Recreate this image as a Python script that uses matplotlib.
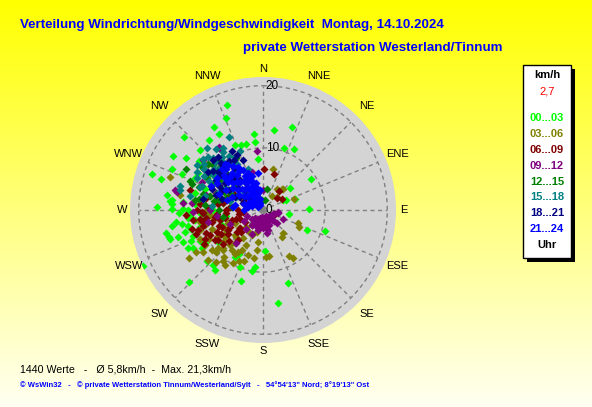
import numpy as np
import matplotlib
matplotlib.use("Agg")
import matplotlib.pyplot as plt
from matplotlib.patches import Rectangle

plt.rcParams['font.family'] = ['Liberation Sans', 'DejaVu Sans']

# Zeitgruppen (Uhr) und Farben
groups = ['00...03', '03...06', '06...09', '09...12', '12...15', '15...18', '18...21', '21...24']
colors = ['#00ff00', '#808000', '#800000', '#800080', '#008000', '#008080', '#000080', '#0000ff']

# Richtung (Grad) / Geschwindigkeit (km/h), aus dem Bild geschaetzt
dir_00 = [341, 338, 330, 322, 353, 8, 19, 353, 19, 27, 314, 341, 301, 304, 288, 287, 294, 354,
          57, 51, 67, 271.5, 279, 276, 245, 274, 252.6, 256.5, 254, 255.5, 242.9, 246.7, 238,
          227.5, 222, 218.8, 225.8, 234.7, 202, 197.4, 188, 190, 177, 210.7, 208.6, 160.7, 171,
          89, 114.6, 109, 64, 70.6, 99, 261.9, 293.7, 307.4, 275.5, 270.4, 260, 254, 271, 268,
          263.7, 241.4, 299.6, 283.8, 279.5, 329.5, 312.6, 336.7, 345.5,
          285, 300, 270, 260, 290, 310, 250, 265, 275, 295, 280, 305,
          262, 258, 250, 255, 248, 265, 270, 266, 260, 252, 276, 244, 240, 258, 268]
spd_00 = [17.9, 16.0, 14.2, 14.2, 12.3, 13.0, 14.1, 11.0, 10.5, 11.1, 14.0, 11.1, 16.9, 15.0,
          18.8, 17.2, 16.1, 8.2, 9.3, 5.6, 4.1, 17.0, 15.7, 14.8, 21.3, 14.6, 15.6, 16.1, 13.1,
          12.0, 13.5, 12.6, 11.5, 12.2, 12.0, 12.3, 16.7, 8.8, 9.9, 12.0, 9.3, 10.0, 6.6, 8.8,
          8.1, 12.4, 15.1, 7.4, 7.7, 10.6, 3.6, 5.4, 4.3, 14.1, 14.3, 13.0, 15.1, 14.7, 14.9,
          15.7, 12.9, 13.5, 12.1, 12.9, 12.0, 11.3, 10.3, 15.5, 17.3, 11.4, 11.0,
          9.0, 7.0, 8.0, 6.0, 10.0, 5.0, 7.0, 9.0, 11.0, 12.0, 6.5, 10.5,
          11.0, 12.3, 12.0, 10.5, 13.8, 11.8, 12.0, 10.0, 13.2, 14.3, 13.0, 11.3, 10.7, 9.0, 9.3]

dir_03 = [236.8, 228.4, 234.9, 223.3, 226, 198, 190.8, 176.3, 172, 151, 147.4, 189, 188.4, 206,
          210.6, 145, 139, 110.6, 115.5, 45.8, 33.6, 42.5, 196, 204, 14.2, 33.5, 44, 70.5, 289.7,
          280, 239, 230, 218, 240, 225, 215, 245, 232, 250, 220, 260, 270, 300, 285, 310, 215, 205,
          225, 232, 220, 212, 228, 238, 218, 208, 200, 235, 242, 250, 255, 215, 225, 245, 260,
          265, 228, 210, 245, 238, 222, 252, 232]
spd_03 = [14.2, 10.1, 7.5, 7.8, 8.9, 7.6, 7.8, 7.5, 7.5, 8.5, 9.1, 6.5, 5.2, 6.3,
          7.8, 5.4, 5.0, 6.1, 6.5, 3.1, 2.7, 4.5, 3.6, 4.4, 6.8, 4.0, 4.7, 5.3, 15.9,
          13.6, 10.9, 9.5, 8.2, 8.6, 6.2, 5.5, 7.0, 4.8, 6.0, 9.8, 8.0, 9.0, 10.5, 7.5, 11.5, 10.8, 9.0,
          9.2, 10.5, 7.0, 8.4, 6.0, 7.2, 10.5, 7.2, 8.8, 11.8, 9.8, 8.8, 9.6, 4.2, 3.8, 5.0, 10.5,
          8.5, 12.0, 9.8, 11.2, 12.8, 11.3, 10.6, 8.0]

dir_06 = [266.8, 257, 257, 243, 231.5, 253, 252.8, 49.5, 111, 262, 265, 248, 251, 259, 262, 238,
          245, 1.4, 17.6, 313.8, 235, 225, 270, 280, 290, 275, 300, 215, 240, 230, 285, 295, 266,
          220, 250, 40, 60,
          270, 265, 258, 250, 262, 272, 278, 268, 255, 245, 240, 275, 282, 260, 235, 230, 265,
          250, 243, 285, 290, 255, 248, 236, 262, 270, 240, 228]
spd_06 = [9.6, 8.5, 7.1, 6.0, 4.7, 5.3, 10.9, 2.9, 2.0, 7.8, 5.9, 7.2, 4.6, 9.8, 9.2, 9.1,
          9.4, 6.6, 6.0, 9.3, 3.5, 5.0, 4.0, 6.5, 8.0, 10.2, 5.6, 3.0, 7.8, 8.4, 12.2, 3.3, 12.5,
          6.3, 11.5, 4.0, 3.5,
          6.0, 7.5, 6.2, 7.5, 10.3, 8.7, 7.3, 9.8, 10.0, 8.2, 6.5, 5.4, 9.3, 4.0, 6.8, 5.4, 3.2,
          4.0, 10.4, 7.2, 6.0, 11.8, 9.9, 8.7, 11.4, 10.6, 11.0, 7.4]

dir_09 = [134, 114.6, 98.5, 171, 219, 222, 258, 268, 324.8, 353.8, 310, 343.6, 282, 275.4, 270,
          150, 170, 190, 200, 160, 180, 140, 210, 230, 125, 185, 165, 195, 215, 240, 250, 110,
          155, 205, 285, 295, 300, 262, 248, 305, 318, 275, 1, 102, 111,
          175, 200, 160, 190, 215, 145, 180, 170, 205, 225, 135, 195, 325, 283]
spd_09 = [3.1, 3.6, 2.5, 3.8, 6.9, 4.2, 9.0, 11.3, 12.0, 9.5, 12.6, 6.4, 14.2, 11.5, 8.5,
          1.8, 1.5, 2.0, 2.4, 2.6, 2.9, 2.2, 1.7, 2.3, 1.4, 1.1, 3.3, 3.4, 3.0, 3.6, 2.8, 1.9,
          1.0, 4.2, 9.5, 10.8, 8.2, 7.5, 5.8, 11.5, 10.8, 13.0, 3.2, 2.5, 1.8,
          2.3, 1.3, 2.0, 2.6, 2.2, 1.5, 1.8, 2.7, 2.8, 1.9, 2.4, 1.6, 12.4, 14.6]

dir_12 = [298, 332, 10, 354, 11, 280, 285, 295, 300, 290, 310, 305, 275, 320, 315, 270, 288,
          302, 325, 260, 338, 292, 278, 312, 305, 295, 285, 300, 280, 315,
          290, 300, 310, 320, 283, 296, 275]
spd_12 = [14.0, 9.4, 3.4, 1.6, 1.7, 8.0, 10.0, 7.0, 9.0, 11.0, 6.0, 12.0, 5.0, 7.5, 9.8, 7.0,
          6.2, 4.7, 4.2, 6.5, 6.0, 12.6, 11.0, 10.8, 8.5, 9.2, 8.8, 6.5, 10.5, 8.3,
          12.2, 10.4, 11.6, 11.0, 7.2, 5.8, 9.3]

dir_15 = [335, 339, 316, 286, 280.5, 310, 314, 283.5, 300, 305, 320, 325, 295, 310, 330, 290,
          300, 315, 305, 320, 285, 295, 310, 340, 275, 292, 318, 327,
          315, 322, 328, 310, 305, 300, 318, 312, 298, 325, 332, 308,
          296, 304, 290, 322, 308, 284, 300, 326]
spd_15 = [13.0, 10.2, 11.6, 13.9, 12.0, 12.7, 12.3, 13.8, 11.0, 9.8, 10.0, 9.0, 9.3, 8.1, 8.5,
          7.8, 7.0, 7.2, 6.0, 5.8, 5.5, 4.8, 4.0, 7.0, 8.3, 10.5, 13.5, 11.8,
          11.0, 10.8, 10.2, 10.2, 11.5, 12.3, 9.2, 9.8, 9.9, 11.3, 9.7, 8.9,
          11.8, 12.9, 10.8, 12.4, 12.0, 9.6, 8.4, 7.6]

dir_18 = [332, 330, 280, 318, 325, 310, 305, 315, 322, 300, 312, 328, 295, 318, 335, 305, 290,
          326, 312, 298, 308, 338, 320, 285, 300, 318, 325, 310, 302, 330, 314, 296,
          292, 305, 315, 288, 322, 335]
spd_18 = [10.7, 7.4, 9.8, 9.6, 8.2, 8.8, 7.5, 6.8, 6.1, 6.3, 5.4, 5.2, 5.0, 4.3, 3.8, 3.6, 3.4,
          3.0, 2.8, 8.1, 10.2, 8.6, 11.2, 6.8, 4.3, 10.2, 9.6, 9.4, 9.0, 9.2, 7.9, 7.4,
          8.9, 10.8, 11.4, 7.9, 7.0, 9.8]

dir_21 = [318, 322, 326, 330, 334, 338, 342, 346, 315, 320, 324, 328, 332, 336, 340, 344,
          312, 317, 321, 326, 330, 335, 339, 343, 308, 314, 319, 324, 329, 334, 338, 345,
          305, 311, 318, 325, 331, 300, 310, 322, 290, 340, 300, 350, 352, 310,
          295, 290, 285, 280, 275, 300, 305, 298, 308, 288, 302, 315, 320, 312, 293, 283,
          270, 296, 306, 316, 330]
spd_21 = [8.8, 9.2, 8.5, 8.0, 7.2, 6.5, 5.8, 4.5, 7.5, 7.8, 7.0, 7.4, 6.2, 5.5, 4.8, 3.6,
          6.5, 6.2, 5.9, 5.6, 5.0, 4.2, 3.5, 2.8, 5.2, 4.8, 4.5, 4.1, 3.8, 3.0, 2.4, 1.9,
          3.8, 3.5, 3.2, 2.7, 2.1, 2.6, 2.2, 1.6, 1.8, 1.2, 1.0, 3.2, 6.0, 8.0,
          9.3, 7.5, 6.0, 4.5, 4.8, 8.6, 9.0, 6.8, 7.2, 3.2, 4.5, 9.4, 9.6, 8.4, 5.4, 2.5,
          3.0, 2.0, 6.0, 1.5, 1.0]

dirs = [dir_00, dir_03, dir_06, dir_09, dir_12, dir_15, dir_18, dir_21]
spds = [spd_00, spd_03, spd_06, spd_09, spd_12, spd_15, spd_18, spd_21]

compass = ['N', 'NNE', 'NE', 'ENE', 'E', 'ESE', 'SE', 'SSE',
           'S', 'SSW', 'SW', 'WSW', 'W', 'WNW', 'NW', 'NNW']
ring_values = [0, 10, 20]
r_max = 21.4

W, H = 592, 407
fig = plt.figure(figsize=(W / 100, H / 100), dpi=100)


def fx(x):
    return x / W


def fy(y):
    return 1 - y / H


# Hintergrund-Verlauf gelb -> hellgelb
bg = fig.add_axes([0, 0, 1, 1], zorder=-10)
t = np.linspace(0, 1, 256)[:, None]
grad = np.dstack([np.ones_like(t), np.ones_like(t), 0.0 + 0.95 * t])
bg.imshow(grad, aspect='auto', extent=[0, 1, 0, 1])
bg.set_axis_off()

# Polardiagramm
cx, cy, R = 263, 210, 133
px_per_kmh = R / r_max
ax = fig.add_axes([fx(cx - R), fy(cy + R), 2 * R / W, 2 * R / H], projection='polar')
ax.set_theta_zero_location('N')
ax.set_theta_direction(-1)
ax.set_facecolor('#d4d4d4')
ax.spines['polar'].set_visible(False)
ax.set_xticks([])
ax.set_yticks([])
ax.grid(False)
ax.set_ylim(0, r_max)

dash = (0, (3, 2.5))
th = np.linspace(0, 2 * np.pi, 361)
for rv in [10, 20]:
    ax.plot(th, np.full_like(th, rv), color='#808080', lw=1, ls=dash, zorder=1)
for i in range(16):
    a = np.deg2rad(i * 22.5)
    ax.plot([a, a], [0, 20], color='#808080', lw=1, ls=dash, zorder=1)

for d, s, c in zip(dirs, spds, colors):
    ax.plot(np.deg2rad(d), s, 'D', ms=3.7, color=c, mec='none', zorder=3)

for rv in ring_values:
    ax.annotate(str(rv), xy=(0, rv), xytext=(2, 0), textcoords='offset points',
                ha='left', va='center', fontsize=8.5, color='black', zorder=5)

# Himmelsrichtungen
for i, lab in enumerate(compass):
    a = np.deg2rad(i * 22.5)
    r_lab = (141 + 6 * abs(np.sin(2 * a))) / px_per_kmh
    ax.text(a, r_lab, lab, ha='center', va='center', fontsize=8, clip_on=False)

# Titel
blue = '#0000ff'
fig.text(fx(20), fy(25), 'Verteilung Windrichtung/Windgeschwindigkeit  Montag, 14.10.2024',
         color=blue, fontsize=9.6, fontweight='bold', ha='left', va='center')
fig.text(fx(243), fy(48), 'private Wetterstation Westerland/Tinnum',
         color=blue, fontsize=9.6, fontweight='bold', ha='left', va='center')

# Legende
fig.patches.append(Rectangle((fx(527), fy(262)), 48 / W, 193 / H, transform=fig.transFigure,
                             facecolor='black', edgecolor='none', zorder=1))
fig.patches.append(Rectangle((fx(523), fy(258)), 48 / W, 193 / H, transform=fig.transFigure,
                             facecolor='white', edgecolor='black', lw=1, zorder=2))
lx = 547
fig.text(fx(lx), fy(75), 'km/h', ha='center', va='center', fontsize=8, fontweight='bold')
fig.text(fx(lx), fy(92), '2,7', ha='center', va='center', fontsize=8, color='red')
for i, (g, c) in enumerate(zip(groups, colors)):
    fig.text(fx(lx), fy(118 + i * 15.9), g, ha='center', va='center', fontsize=8,
             fontweight='bold', color=c)
fig.text(fx(lx), fy(245), 'Uhr', ha='center', va='center', fontsize=8, fontweight='bold')

# Fusszeilen
fig.text(fx(20), fy(369), '1440 Werte   -   \u00d8 5,8km/h  -  Max. 21,3km/h',
         ha='left', va='center', fontsize=7.7)
fig.text(fx(20), fy(385), '\u00a9 WsWin32   -   \u00a9 private Wetterstation Tinnum/Westerland/Sylt'
         '   -   54\u00b054\'13" Nord; 8\u00b019\'13" Ost',
         ha='left', va='center', fontsize=5.5, fontweight='bold', color=blue)

fig.savefig('out.png', dpi=100)
